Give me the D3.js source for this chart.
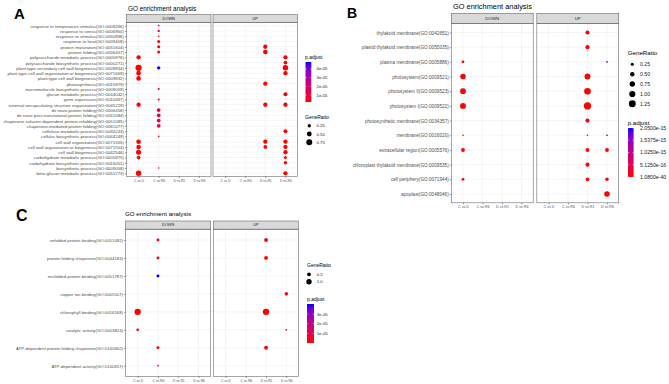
<!DOCTYPE html>
<html><head><meta charset="utf-8">
<script src="https://cdn.jsdelivr.net/npm/d3@7"></script>
<style>
body{margin:0;background:#fff}
svg{display:block}
text{font-family:"Liberation Sans",Arial,Helvetica,sans-serif}
</style>
</head><body>
<svg id="chart" width="669" height="384"></svg>
<script>
// ---------- shared categories ----------
const conditions = ["C vs D", "C vs R6", "D vs R1", "D vs R6"];
const facets = ["DOWN", "UP"];

// ---------- Panel A (biological process) ----------
const termsA = [
  "response to temperature stimulus(GO:0009266)",
  "response to stress(GO:0006950)",
  "response to stimulus(GO:0050896)",
  "response to heat(GO:0009408)",
  "protein maturation(GO:0051604)",
  "protein folding(GO:0006457)",
  "polysaccharide metabolic process(GO:0005976)",
  "polysaccharide biosynthetic process(GO:0000271)",
  "plant-type secondary cell wall biogenesis(GO:0009834)",
  "plant-type cell wall organization or biogenesis(GO:0071669)",
  "plant-type cell wall biogenesis(GO:0009832)",
  "photosynthesis(GO:0015979)",
  "macromolecule biosynthetic process(GO:0009059)",
  "glucan metabolic process(GO:0044042)",
  "gene expression(GO:0010467)",
  "external encapsulating structure organization(GO:0045229)",
  "de novo protein folding(GO:0006458)",
  "de novo post-translational protein folding(GO:0051084)",
  "chaperone cofactor-dependent protein refolding(GO:0051085)",
  "chaperone-mediated protein folding(GO:0061077)",
  "cellulose metabolic process(GO:0030243)",
  "cellular biosynthetic process(GO:0044249)",
  "cell wall organization(GO:0071555)",
  "cell wall organization or biogenesis(GO:0071554)",
  "cell wall biogenesis(GO:0042546)",
  "carbohydrate metabolic process(GO:0005975)",
  "carbohydrate biosynthetic process(GO:0016051)",
  "biosynthetic process(GO:0009058)",
  "beta-glucan metabolic process(GO:0051273)"
];
// [GO id, comparison, GeneRatio, p.adjust]
const aDown = [
  ["GO:0009266", "C vs R6", 0.06, 3.1e-05],
  ["GO:0006950", "C vs R6", 0.12, 5e-06],
  ["GO:0050896", "C vs R6", 0.06, 5e-06],
  ["GO:0009408", "C vs R6", 0.2, 3e-06],
  ["GO:0051604", "C vs R6", 0.2, 3e-06],
  ["GO:0006457", "C vs R6", 0.2, 3e-06],
  ["GO:0005976", "C vs D", 0.4, 2e-06],
  ["GO:0009834", "C vs D", 0.85, 2e-06],
  ["GO:0009834", "C vs R6", 0.25, 4.8e-05],
  ["GO:0071669", "C vs D", 0.45, 2e-06],
  ["GO:0009832", "C vs D", 0.45, 2e-06],
  ["GO:0009059", "C vs R6", 0.1, 3e-06],
  ["GO:0010467", "C vs R6", 0.1, 3e-06],
  ["GO:0045229", "C vs D", 0.4, 2e-06],
  ["GO:0006458", "C vs R6", 0.3, 1.4e-05],
  ["GO:0051084", "C vs R6", 0.3, 1.4e-05],
  ["GO:0051085", "C vs R6", 0.3, 1.4e-05],
  ["GO:0061077", "C vs R6", 0.3, 1.0e-05],
  ["GO:0044249", "C vs R6", 0.06, 3e-06],
  ["GO:0071555", "C vs D", 0.45, 2e-06],
  ["GO:0071554", "C vs D", 0.45, 2e-06],
  ["GO:0042546", "C vs D", 0.55, 2e-06],
  ["GO:0005975", "C vs D", 0.3, 2e-06],
  ["GO:0009058", "C vs R6", 0.05, 3e-06],
  ["GO:0051273", "C vs D", 0.65, 2e-06]
];
const aUp = [
  ["GO:0051604", "D vs R1", 0.4, 2e-06],
  ["GO:0006457", "D vs R1", 0.45, 2e-06],
  ["GO:0005976", "D vs R6", 0.4, 2e-06],
  ["GO:0000271", "D vs R6", 0.3, 2e-06],
  ["GO:0009834", "D vs R6", 0.65, 2e-06],
  ["GO:0071669", "D vs R6", 0.4, 2e-06],
  ["GO:0015979", "D vs R1", 0.4, 2e-06],
  ["GO:0044042", "D vs R6", 0.35, 2e-06],
  ["GO:0045229", "D vs R1", 0.4, 2e-06],
  ["GO:0045229", "D vs R6", 0.4, 2e-06],
  ["GO:0030243", "D vs R6", 0.35, 2e-06],
  ["GO:0071555", "D vs R1", 0.4, 2e-06],
  ["GO:0071555", "D vs R6", 0.4, 2e-06],
  ["GO:0071554", "D vs R1", 0.3, 2e-06],
  ["GO:0071554", "D vs R6", 0.4, 2e-06],
  ["GO:0042546", "D vs R6", 0.4, 2e-06],
  ["GO:0005975", "D vs R6", 0.2, 2e-06],
  ["GO:0016051", "D vs R6", 0.25, 2e-06],
  ["GO:0051273", "D vs R6", 0.4, 2e-06]
];
const sizeBreaksA = [0.25, 0.5, 0.75];
const pBreaksA = [1e-05, 2e-05, 3e-05, 4e-05];
const pLabelsA = ["1e-05", "2e-05", "3e-05", "4e-05"];

// ---------- Panel B (cellular component) ----------
const termsB = [
  "thylakoid membrane(GO:0042651)",
  "plastid thylakoid membrane(GO:0055035)",
  "plasma membrane(GO:0005886)",
  "photosystem(GO:0009521)",
  "photosystem II(GO:0009523)",
  "photosystem I(GO:0009522)",
  "photosynthetic membrane(GO:0034357)",
  "membrane(GO:0016020)",
  "extracellular region(GO:0005576)",
  "chloroplast thylakoid membrane(GO:0009535)",
  "cell periphery(GO:0071944)",
  "apoplast(GO:0048046)"
];
const bDown = [
  ["GO:0005886", "C vs D", 0.2, 1.08e-40],
  ["GO:0009521", "C vs D", 0.8, 1.08e-40],
  ["GO:0009523", "C vs D", 0.85, 1.08e-40],
  ["GO:0009522", "C vs D", 0.9, 1.08e-40],
  ["GO:0016020", "C vs D", 0.07, 1.08e-40],
  ["GO:0005576", "C vs D", 0.4, 1.08e-40],
  ["GO:0071944", "C vs D", 0.2, 1.08e-40]
];
const bUp = [
  ["GO:0042651", "D vs R1", 0.45, 1.08e-40],
  ["GO:0055035", "D vs R1", 0.45, 1.08e-40],
  ["GO:0005886", "D vs R6", 0.1, 1.5e-15],
  ["GO:0009521", "D vs R1", 0.9, 1.08e-40],
  ["GO:0009523", "D vs R1", 1.15, 1.08e-40],
  ["GO:0009522", "D vs R1", 1.35, 1.08e-40],
  ["GO:0034357", "D vs R1", 0.45, 1.08e-40],
  ["GO:0016020", "D vs R1", 0.07, 1.08e-40],
  ["GO:0016020", "D vs R6", 0.07, 2.05e-15],
  ["GO:0005576", "D vs R1", 0.4, 1.08e-40],
  ["GO:0005576", "D vs R6", 0.4, 1.08e-40],
  ["GO:0009535", "D vs R1", 0.45, 1.08e-40],
  ["GO:0071944", "D vs R1", 0.35, 1.08e-40],
  ["GO:0071944", "D vs R6", 0.3, 1.08e-40],
  ["GO:0048046", "D vs R6", 0.8, 1.08e-40]
];
const sizeBreaksB = [0.25, 0.5, 0.75, 1.0, 1.25];
const pBreaksB = [1.08e-40, 5.125e-16, 1.025e-15, 1.5375e-15, 2.05e-15];
const pLabelsB = ["1.0800e-40", "5.1250e-16", "1.0250e-15", "1.5375e-15", "2.0500e-15"];

// ---------- Panel C (molecular function) ----------
const termsC = [
  "unfolded protein binding(GO:0051082)",
  "protein folding chaperone(GO:0044183)",
  "misfolded protein binding(GO:0051787)",
  "copper ion binding(GO:0005507)",
  "chlorophyll binding(GO:0016168)",
  "catalytic activity(GO:0003824)",
  "ATP-dependent protein folding chaperone(GO:0140662)",
  "ATP-dependent activity(GO:0140657)"
];
const cDown = [
  ["GO:0051082", "C vs R6", 0.3, 2e-06],
  ["GO:0044183", "C vs R6", 0.3, 2e-06],
  ["GO:0051787", "C vs R6", 0.3, 4.05e-05],
  ["GO:0016168", "C vs D", 1.4, 1e-10],
  ["GO:0003824", "C vs D", 0.25, 1e-06],
  ["GO:0140662", "C vs R6", 0.3, 2e-06],
  ["GO:0140657", "C vs R6", 0.1, 2e-06]
];
const cUp = [
  ["GO:0051082", "D vs R1", 0.5, 1e-08],
  ["GO:0044183", "D vs R1", 0.5, 1e-08],
  ["GO:0005507", "D vs R6", 0.45, 1e-06],
  ["GO:0016168", "D vs R1", 1.4, 1e-10],
  ["GO:0003824", "D vs R6", 0.1, 1e-06],
  ["GO:0140662", "D vs R1", 0.5, 1e-08]
];
const sizeBreaksC = [0.5, 1.0];
const pBreaksC = [1e-05, 2e-05, 3e-05];
const pLabelsC = ["1e-05", "2e-05", "3e-05"];

// ---------- drawing ----------
const svg = d3.select("#chart");
svg.append("rect").attr("width", 669).attr("height", 384).attr("fill", "#fff");
const defs = svg.append("defs");
const goId = s => s.match(/\((GO:\d+)\)/)[1];

function drawPanel(cfg) {
  const g = svg.append("g");
  const idMap = new Map(cfg.terms.map(t => [goId(t), t]));
  const y = d3.scalePoint().domain(cfg.terms).range([cfg.top, cfg.bottom]).padding(0.6);
  const r = d3.scaleSqrt().domain([0, 1]).range([0, cfg.k]);
  const col = d3.scaleLinear().domain(cfg.pDomain).range(["red", "blue"])
    .interpolate(d3.interpolateLab).clamp(true);

  g.append("text").attr("x", cfg.tagX).attr("y", cfg.tagY)
    .attr("font-size", cfg.tagSize).attr("font-weight", "bold")
    .style("font-family", "Arial, 'Liberation Sans', sans-serif").text(cfg.tag);
  g.append("text").attr("x", cfg.titleX).attr("y", cfg.titleY)
    .attr("font-size", cfg.titleSize).attr("fill", "#000").text("GO enrichment analysis");

  facets.forEach((f, i) => {
    const [x0, x1] = cfg.facetX[i];
    const x = d3.scalePoint().domain(conditions).range([x0, x1]).padding(0.6);
    g.append("rect").attr("x", x0).attr("y", cfg.top).attr("width", x1 - x0)
      .attr("height", cfg.bottom - cfg.top).attr("fill", "#fff");
    g.append("g").selectAll("line").data(cfg.terms).join("line")
      .attr("x1", x0).attr("x2", x1).attr("y1", d => y(d)).attr("y2", d => y(d))
      .attr("stroke", "#EBEBEB").attr("stroke-width", 0.5);
    g.append("g").selectAll("line").data(conditions).join("line")
      .attr("y1", cfg.top).attr("y2", cfg.bottom).attr("x1", d => x(d)).attr("x2", d => x(d))
      .attr("stroke", "#EBEBEB").attr("stroke-width", 0.5);
    // strip
    g.append("rect").attr("x", x0).attr("y", cfg.stripTop).attr("width", x1 - x0)
      .attr("height", cfg.top - cfg.stripTop).attr("fill", "#D9D9D9")
      .attr("stroke", "#6b6b6b").attr("stroke-width", 0.6);
    g.append("text").attr("x", (x0 + x1) / 2).attr("y", (cfg.stripTop + cfg.top) / 2)
      .attr("dy", "0.35em").attr("text-anchor", "middle")
      .attr("font-size", cfg.stripSize).attr("fill", "#1a1a1a").text(f);
    // dots
    g.append("g").selectAll("circle").data(cfg.data[i]).join("circle")
      .attr("cx", d => x(d[1])).attr("cy", d => y(idMap.get(d[0])))
      .attr("r", d => r(d[2])).attr("fill", d => col(d[3]));
    // border
    g.append("rect").attr("x", x0).attr("y", cfg.top).attr("width", x1 - x0)
      .attr("height", cfg.bottom - cfg.top).attr("fill", "none")
      .attr("stroke", "#6b6b6b").attr("stroke-width", 0.6);
    // x axis
    const ax = g.append("g").attr("transform", `translate(0,${cfg.bottom})`)
      .call(d3.axisBottom(x).tickSize(1.5).tickPadding(1.2));
    ax.select(".domain").remove();
    ax.selectAll("line").attr("stroke", "#333").attr("stroke-width", 0.5);
    ax.selectAll("text").attr("font-size", cfg.xSize).attr("fill", "#4d4d4d")
      .style("font-family", "'Liberation Sans', Arial, sans-serif");
  });
  // y axis
  const ay = g.append("g").attr("transform", `translate(${cfg.facetX[0][0]},0)`)
    .call(d3.axisLeft(y).tickSize(1.5).tickPadding(1));
  ay.select(".domain").remove();
  ay.selectAll("line").attr("stroke", "#333").attr("stroke-width", 0.5);
  ay.selectAll("text").attr("font-size", cfg.ySize).attr("fill", "#4d4d4d")
    .style("font-family", "'Liberation Sans', Arial, sans-serif");

  // legends
  const L = cfg.legend;
  // size legend
  g.append("text").attr("x", L.x).attr("y", L.sizeTitleY).attr("font-size", L.titleSize)
    .attr("fill", "#000").text("GeneRatio");
  L.sizeYs.forEach((yy, j) => {
    g.append("circle").attr("cx", L.dotX).attr("cy", yy).attr("r", r(cfg.sizeBreaks[j])).attr("fill", "#000");
    g.append("text").attr("x", L.labX).attr("y", yy).attr("dy", "0.35em")
      .attr("font-size", L.labSize).attr("fill", "#1a1a1a").text(d3.format(".2f")(cfg.sizeBreaks[j]).replace(/^(\d\.\d)0$/, cfg.sizeFmt1 ? "$1" : "$10"));
  });
  // colour bar
  g.append("text").attr("x", L.x).attr("y", L.colTitleY).attr("font-size", L.titleSize)
    .attr("fill", "#000").text("p.adjust");
  const gid = "grad" + cfg.tag;
  const grad = defs.append("linearGradient").attr("id", gid)
    .attr("x1", 0).attr("y1", 1).attr("x2", 0).attr("y2", 0);
  d3.range(0, 1.0001, 0.1).forEach(t => {
    grad.append("stop").attr("offset", t)
      .attr("stop-color", col(cfg.pDomain[0] + t * (cfg.pDomain[1] - cfg.pDomain[0])));
  });
  const by = d3.scaleLinear().domain(cfg.pDomain).range([L.barBottom, L.barTop]);
  g.append("rect").attr("x", L.barX).attr("y", L.barTop).attr("width", L.barW)
    .attr("height", L.barBottom - L.barTop).attr("fill", `url(#${gid})`);
  cfg.pBreaks.forEach((p, j) => {
    const yy = by(p);
    g.append("line").attr("x1", L.barX).attr("x2", L.barX + 1.2).attr("y1", yy).attr("y2", yy)
      .attr("stroke", "#fff").attr("stroke-width", 0.5);
    g.append("line").attr("x1", L.barX + L.barW - 1.2).attr("x2", L.barX + L.barW).attr("y1", yy).attr("y2", yy)
      .attr("stroke", "#fff").attr("stroke-width", 0.5);
    g.append("text").attr("x", L.labX).attr("y", yy).attr("dy", "0.35em")
      .attr("font-size", L.labSize).attr("fill", "#1a1a1a").text(cfg.pLabels[j]);
  });
}

drawPanel({
  tag: "A", tagX: 14, tagY: 18.5, tagSize: 15,
  titleX: 128, titleY: 10.5, titleSize: 6.4,
  terms: termsA, data: [aDown, aUp],
  facetX: [[126.5, 211], [213, 297.5]],
  stripTop: 14.5, top: 22.5, bottom: 176.5,
  k: 3.4, pDomain: [2e-06, 4.8e-05],
  ySize: 4.4, xSize: 3.3, stripSize: 3.9,
  sizeBreaks: sizeBreaksA, pBreaks: pBreaksA, pLabels: pLabelsA,
  legend: { x: 305, titleSize: 5, labSize: 4.3, dotX: 309.3, labX: 316.5,
    colTitleY: 59, barX: 305.5, barW: 5.8, barTop: 62, barBottom: 102,
    sizeTitleY: 118.5, sizeYs: [125.7, 134, 142.3] }
});

drawPanel({
  tag: "B", tagX: 347, tagY: 18, tagSize: 14,
  titleX: 453, titleY: 8.9, titleSize: 7.4,
  terms: termsB, data: [bDown, bUp],
  facetX: [[451.3, 533.2], [536.8, 618.7]],
  stripTop: 13.3, top: 23.7, bottom: 202.8,
  k: 3.1, pDomain: [1.08e-40, 2.05e-15],
  ySize: 4.7, xSize: 3.6, stripSize: 4.4,
  sizeBreaks: sizeBreaksB, pBreaks: pBreaksB, pLabels: pLabelsB,
  legend: { x: 627.7, titleSize: 6.2, labSize: 5.2, dotX: 632.3, labX: 640,
    sizeTitleY: 55.2, sizeYs: [64.3, 74.3, 84, 94, 103.7],
    colTitleY: 125.2, barX: 628, barW: 5.6, barTop: 128, barBottom: 177 }
});

drawPanel({
  tag: "C", tagX: 16, tagY: 221, tagSize: 16,
  titleX: 125, titleY: 216.3, titleSize: 6.2,
  terms: termsC, data: [cDown, cUp],
  facetX: [[125.5, 210.7], [213.3, 298.5]],
  stripTop: 221, top: 229.2, bottom: 376.5,
  k: 2.7, pDomain: [1e-10, 4.05e-05], sizeFmt1: true,
  ySize: 4.3, xSize: 3.3, stripSize: 3.9,
  sizeBreaks: sizeBreaksC, pBreaks: pBreaksC, pLabels: pLabelsC,
  legend: { x: 307, titleSize: 5, labSize: 4.3, dotX: 309, labX: 316.7,
    sizeTitleY: 267, sizeYs: [274.3, 281.7],
    colTitleY: 301, barX: 307, barW: 7, barTop: 304, barBottom: 343 }
});
</script>
</body></html>
